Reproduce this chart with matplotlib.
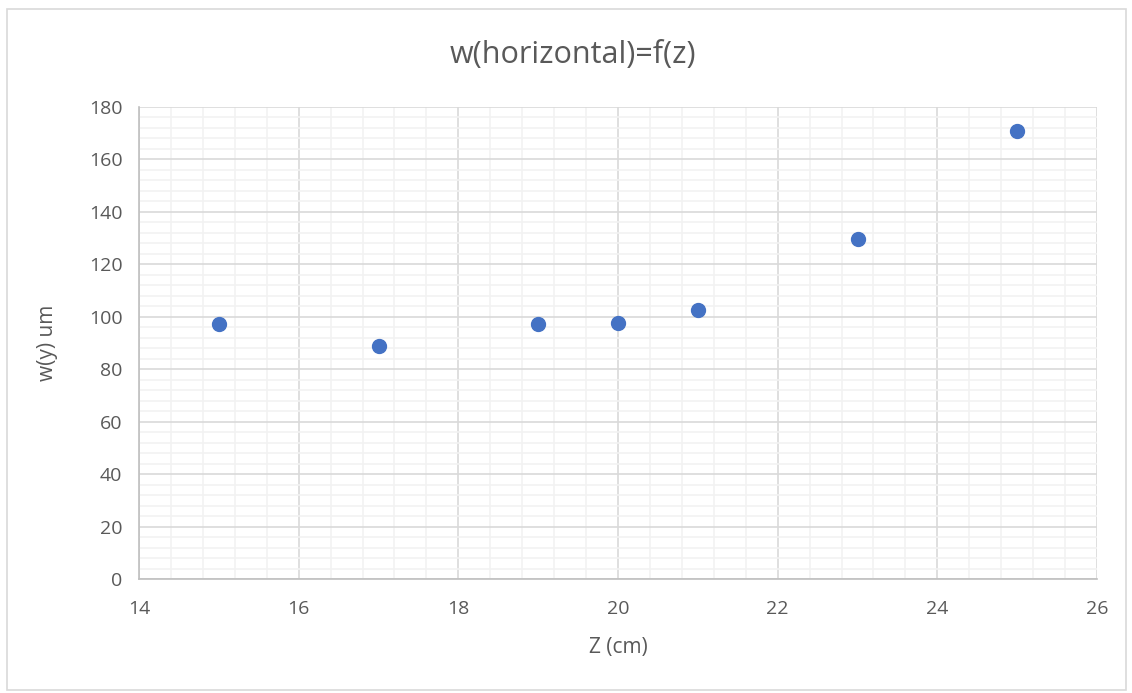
import matplotlib
matplotlib.use("Agg")
import matplotlib.pyplot as plt
from matplotlib.patches import Rectangle
from matplotlib.ticker import MultipleLocator

z_cm = [15, 17, 19, 20, 21, 23, 25]
w_um = [97.2, 88.9, 97.2, 97.6, 102.6, 129.7, 170.9]
x_ticks = [14, 16, 18, 20, 22, 24, 26]
y_ticks = [0, 20, 40, 60, 80, 100, 120, 140, 160, 180]

plt.rcParams['font.family'] = ['Open Sans', 'DejaVu Sans']

fig = plt.figure(figsize=(11.32, 6.93), dpi=100)
fig.patch.set_facecolor('white')
fig.patches.append(Rectangle((7/1132, 1 - 690/693), 1119/1132, 681/693,
                             transform=fig.transFigure, fill=False,
                             edgecolor='#d9d9d9', linewidth=1.2))
ax = fig.add_axes([139/1132, 1 - 579/693, (1097 - 139)/1132, (579 - 107)/693])

ax.scatter(z_cm, w_um, s=100, color='#4472c4', zorder=5, edgecolors='#4472c4')

ax.set_xlim(14, 26)
ax.set_ylim(0, 180)
ax.set_xticks(x_ticks)
ax.set_yticks(y_ticks)
ax.xaxis.set_minor_locator(MultipleLocator(0.4))
ax.yaxis.set_minor_locator(MultipleLocator(4))
ax.grid(which='major', color='#d9d9d9', linewidth=1.2, zorder=1)
ax.grid(which='minor', color='#f2f2f2', linewidth=1.2, zorder=0)
ax.set_axisbelow(True)

for s in ['top', 'right']:
    ax.spines[s].set_visible(False)
for s in ['left', 'bottom']:
    ax.spines[s].set_color('#bfbfbf')
    ax.spines[s].set_linewidth(1.2)

ax.tick_params(which='both', length=0, labelsize=14, labelcolor='#595959')
ax.tick_params(axis='y', pad=12)
ax.tick_params(axis='x', pad=15)

fig.text(573/1132, 1 - 55/693, 'w(horizontal)=f(z)', fontsize=22, color='#595959',
         ha='center', va='center')
ax.set_xlabel('Z (cm)', fontsize=15, color='#595959', labelpad=14)
ax.set_ylabel('w(y) um', fontsize=15, color='#595959', labelpad=22)

fig.savefig('out.png', dpi=100, facecolor='white')
